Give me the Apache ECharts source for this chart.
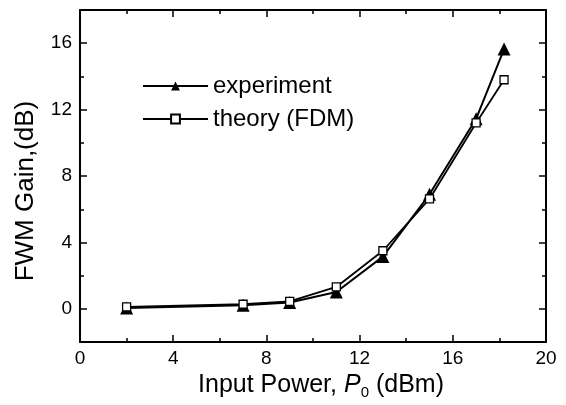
<!DOCTYPE html>
<html>
<head>
<meta charset="utf-8">
<script src="https://cdn.jsdelivr.net/npm/echarts@6/dist/echarts.min.js"></script>
<style>
  html, body { margin: 0; padding: 0; background: #fff; }
  #main { width: 566px; height: 405px; }
</style>
</head>
<body>
<div id="main"></div>
<script>
// input power (dBm)
var power = [2, 7, 9, 11, 13, 15, 17, 18.2];
// FWM gain (dB)
var experiment = [0.05, 0.22, 0.38, 1.02, 3.15, 6.9, 11.45, 15.65];
var theory = [0.12, 0.28, 0.45, 1.32, 3.5, 6.62, 11.2, 13.8];

var xTicks = [0, 4, 8, 12, 16, 20];
var xMinor = [2, 6, 10, 14, 18];
var yTicks = [0, 4, 8, 12, 16];
var yMinor = [2, 6, 10, 14];

var font = "'Liberation Sans', Arial, sans-serif";

function pairs(xs, ys) {
  var out = [];
  for (var i = 0; i < xs.length; i++) out.push([xs[i], ys[i]]);
  return out;
}

var chart = echarts.init(document.getElementById('main'));

function xAx(pos, ticks, len, showLabel, showLine, name) {
  return {
    type: 'value', position: pos, min: 0, max: 20, interval: 2,
    axisLine: { show: showLine, onZero: false, lineStyle: { color: '#000', width: 2 } },
    axisTick: { show: true, inside: true, length: len, customValues: ticks, lineStyle: { color: '#000', width: 1.5 } },
    axisLabel: { show: showLabel, customValues: xTicks, margin: 7, color: '#000', fontSize: 19, fontFamily: font },
    splitLine: { show: false },
    name: name || '',
    nameLocation: 'middle',
    nameGap: 26,
    nameTextStyle: {
      color: '#000', fontSize: 25, fontFamily: font, padding: [0, 0, 0, 16],
      rich: {
        i: { fontStyle: 'italic', fontSize: 25, fontFamily: font, color: '#000' },
        s: { fontSize: 15, fontFamily: font, color: '#000', verticalAlign: 'bottom', padding: [14, 0, 0, 0] }
      }
    }
  };
}

function yAx(pos, ticks, len, showLabel, showLine, name) {
  return {
    type: 'value', position: pos, min: -2, max: 18, interval: 2,
    axisLine: { show: showLine, onZero: false, lineStyle: { color: '#000', width: 2 } },
    axisTick: { show: true, inside: true, length: len, customValues: ticks, lineStyle: { color: '#000', width: 1.5 } },
    axisLabel: { show: showLabel, customValues: yTicks, margin: 8, color: '#000', fontSize: 19, fontFamily: font },
    splitLine: { show: false },
    name: name || '',
    nameLocation: 'middle',
    nameGap: 41,
    nameTextStyle: { color: '#000', fontSize: 26, fontFamily: font, padding: [0, 30, 0, 0] }
  };
}

chart.setOption({
  animation: false,
  backgroundColor: '#fff',
  grid: { left: 80, right: 20, top: 10, bottom: 60 },
  legend: {
    orient: 'vertical',
    left: 137, top: 69,
    itemWidth: 65, itemHeight: 11, itemGap: 9,
    textStyle: { color: '#000', fontSize: 24, fontFamily: font },
    data: ['experiment', 'theory (FDM)']
  },
  xAxis: [
    xAx('bottom', xTicks, 7, true, true, '{a|Input Power, }{i|P}{s|0}{a| (dBm)}'),
    xAx('bottom', xMinor, 4, false, false),
    xAx('top', xTicks, 7, false, true),
    xAx('top', xMinor, 4, false, false)
  ],
  yAxis: [
    yAx('left', yTicks, 7, true, true, 'FWM Gain,(dB)'),
    yAx('left', yMinor, 4, false, false),
    yAx('right', yTicks, 7, false, true),
    yAx('right', yMinor, 4, false, false)
  ],
  series: [
    {
      name: 'experiment', type: 'line',
      data: pairs(power, experiment),
      symbol: 'triangle', symbolSize: 13,
      lineStyle: { color: '#000', width: 2 },
      itemStyle: { color: '#000' },
      z: 2
    },
    {
      name: 'theory (FDM)', type: 'line',
      data: pairs(power, theory),
      symbol: 'rect', symbolSize: 8,
      lineStyle: { color: '#000', width: 1.8 },
      itemStyle: { color: '#fff', borderColor: '#000', borderWidth: 1.3 },
      z: 3
    }
  ]
});
</script>
</body>
</html>
